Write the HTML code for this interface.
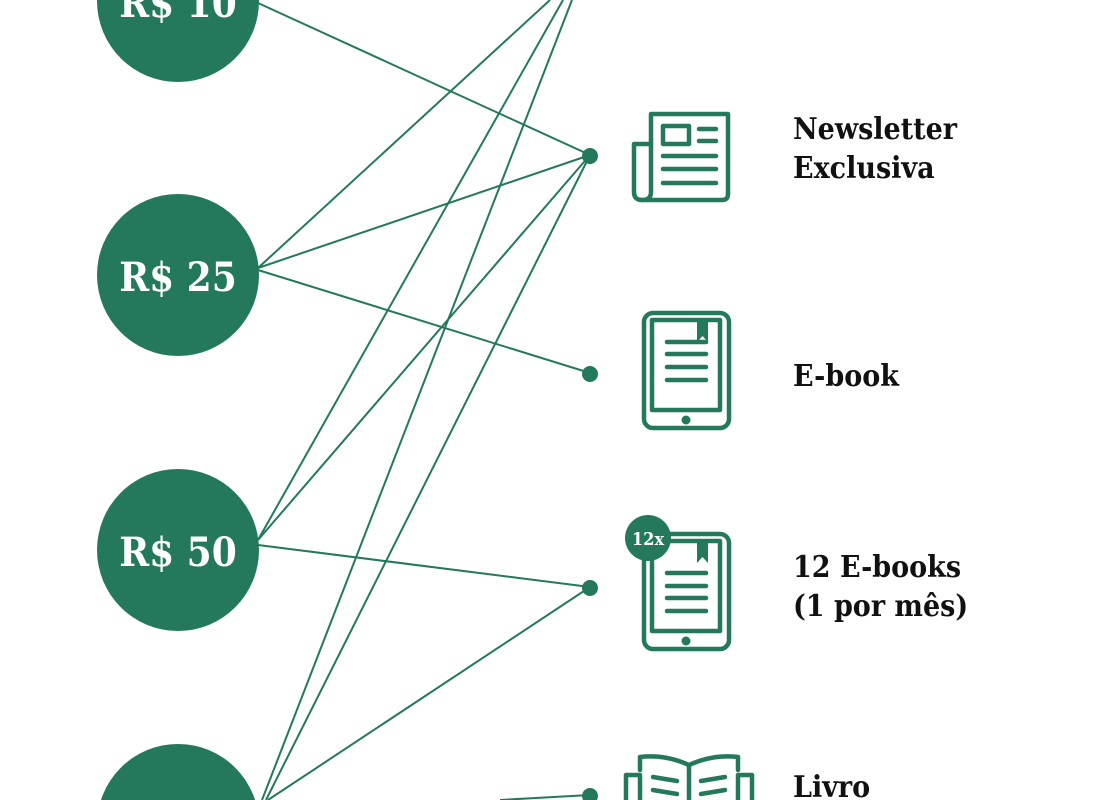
<!DOCTYPE html>
<html><head><meta charset="utf-8"><style>
html,body{margin:0;padding:0;background:#fff;width:1093px;height:800px;overflow:hidden}
svg{display:block;overflow:hidden}
.t{font-family:"DejaVu Serif Condensed","DejaVu Serif","Liberation Serif",serif;font-stretch:condensed;font-size:30px;fill:#111;font-weight:bold}
.c{font-family:"DejaVu Serif Condensed","DejaVu Serif","Liberation Serif",serif;font-stretch:condensed;font-size:40px;fill:#fff;text-anchor:middle;font-weight:bold}
</style></head><body>
<svg width="1093" height="800" viewBox="0 0 1093 800" xmlns="http://www.w3.org/2000/svg">
<g stroke="#24785c" stroke-width="2" fill="none">
<line x1="258" y1="3" x2="590" y2="155"/>
<line x1="258" y1="268" x2="550" y2="0"/>
<line x1="258" y1="268" x2="590" y2="155"/>
<line x1="258" y1="270" x2="590" y2="373"/>
<line x1="258" y1="540" x2="563" y2="0"/>
<line x1="258" y1="540" x2="590" y2="155"/>
<line x1="258" y1="545" x2="590" y2="587"/>
<line x1="262" y1="800" x2="572" y2="0"/>
<line x1="266" y1="800" x2="590" y2="155"/>
<line x1="268" y1="800" x2="590" y2="587"/>
<line x1="500" y1="800" x2="590" y2="795"/>
</g>
<g fill="#24785c">
<circle cx="178" cy="1" r="81"/>
<circle cx="178" cy="275" r="81"/>
<circle cx="178" cy="550" r="81"/>
<circle cx="178" cy="825" r="81"/>
<circle cx="590" cy="156" r="8"/>
<circle cx="590" cy="374" r="8"/>
<circle cx="590" cy="588" r="8"/>
<circle cx="590" cy="796" r="8"/>
</g>
<text class="c" x="178" y="17">R$ 10</text>
<text class="c" x="178" y="291">R$ 25</text>
<text class="c" x="178" y="566">R$ 50</text>
<g stroke="#24785c" stroke-width="4.5" fill="none" stroke-linecap="round" stroke-linejoin="round">
<path d="M651 114 H728 V194 Q728 200 722 200 H642 Q634 200 634 192 V144 H651 Z"/>
<path d="M651 144 V192 Q651 200 642 200"/>
<rect x="663" y="126" width="26" height="18"/>
<line x1="699" y1="129" x2="716" y2="129"/><line x1="699" y1="141" x2="716" y2="141"/>
<line x1="663" y1="156" x2="716" y2="156"/><line x1="663" y1="169" x2="716" y2="169"/><line x1="663" y1="183" x2="716" y2="183"/>
<rect x="644" y="313" width="85" height="115" rx="9"/>
<rect x="652" y="320" width="68" height="90"/>
<line x1="667" y1="342" x2="706" y2="342"/><line x1="667" y1="354" x2="706" y2="354"/><line x1="667" y1="367" x2="706" y2="367"/><line x1="667" y1="380" x2="706" y2="380"/>
<rect x="644" y="534" width="85" height="115" rx="9"/>
<rect x="652" y="541" width="68" height="90"/>
<line x1="667" y1="573" x2="706" y2="573"/><line x1="667" y1="586" x2="706" y2="586"/><line x1="667" y1="598" x2="706" y2="598"/><line x1="667" y1="611" x2="706" y2="611"/>
<path d="M640 770 V757 Q665 754 689 765 Q713 754 738 757 V770"/>
<path d="M626 775 H640 V800 M738 800 V775 H752 V800 M626 775 V800"/>
<line x1="689" y1="765" x2="689" y2="800"/>
<line x1="653" y1="777" x2="677" y2="781"/><line x1="653" y1="790" x2="677" y2="794"/>
<line x1="701" y1="781" x2="725" y2="777"/><line x1="701" y1="794" x2="725" y2="790"/>
</g>
<g fill="#24785c">
<path d="M697 320 H708 V342 L702.5 336 L697 342 Z"/>
<path d="M697 541 H708 V563 L702.5 557 L697 563 Z"/>
<circle cx="686" cy="420" r="4.5"/>
<circle cx="686" cy="641" r="4.5"/>
<circle cx="648" cy="538" r="23"/>
</g>
<text x="648" y="545" text-anchor="middle" font-family="DejaVu Serif Condensed,DejaVu Serif,serif" font-size="18" font-weight="bold" fill="#fff">12x</text>
<text class="t" x="793" y="139">Newsletter</text>
<text class="t" x="793" y="178">Exclusiva</text>
<text class="t" x="793" y="386">E-book</text>
<text class="t" x="793" y="577">12 E-books</text>
<text class="t" x="793" y="616">(1 por mês)</text>
<text class="t" x="793" y="797">Livro</text>
</svg>
</body></html>
